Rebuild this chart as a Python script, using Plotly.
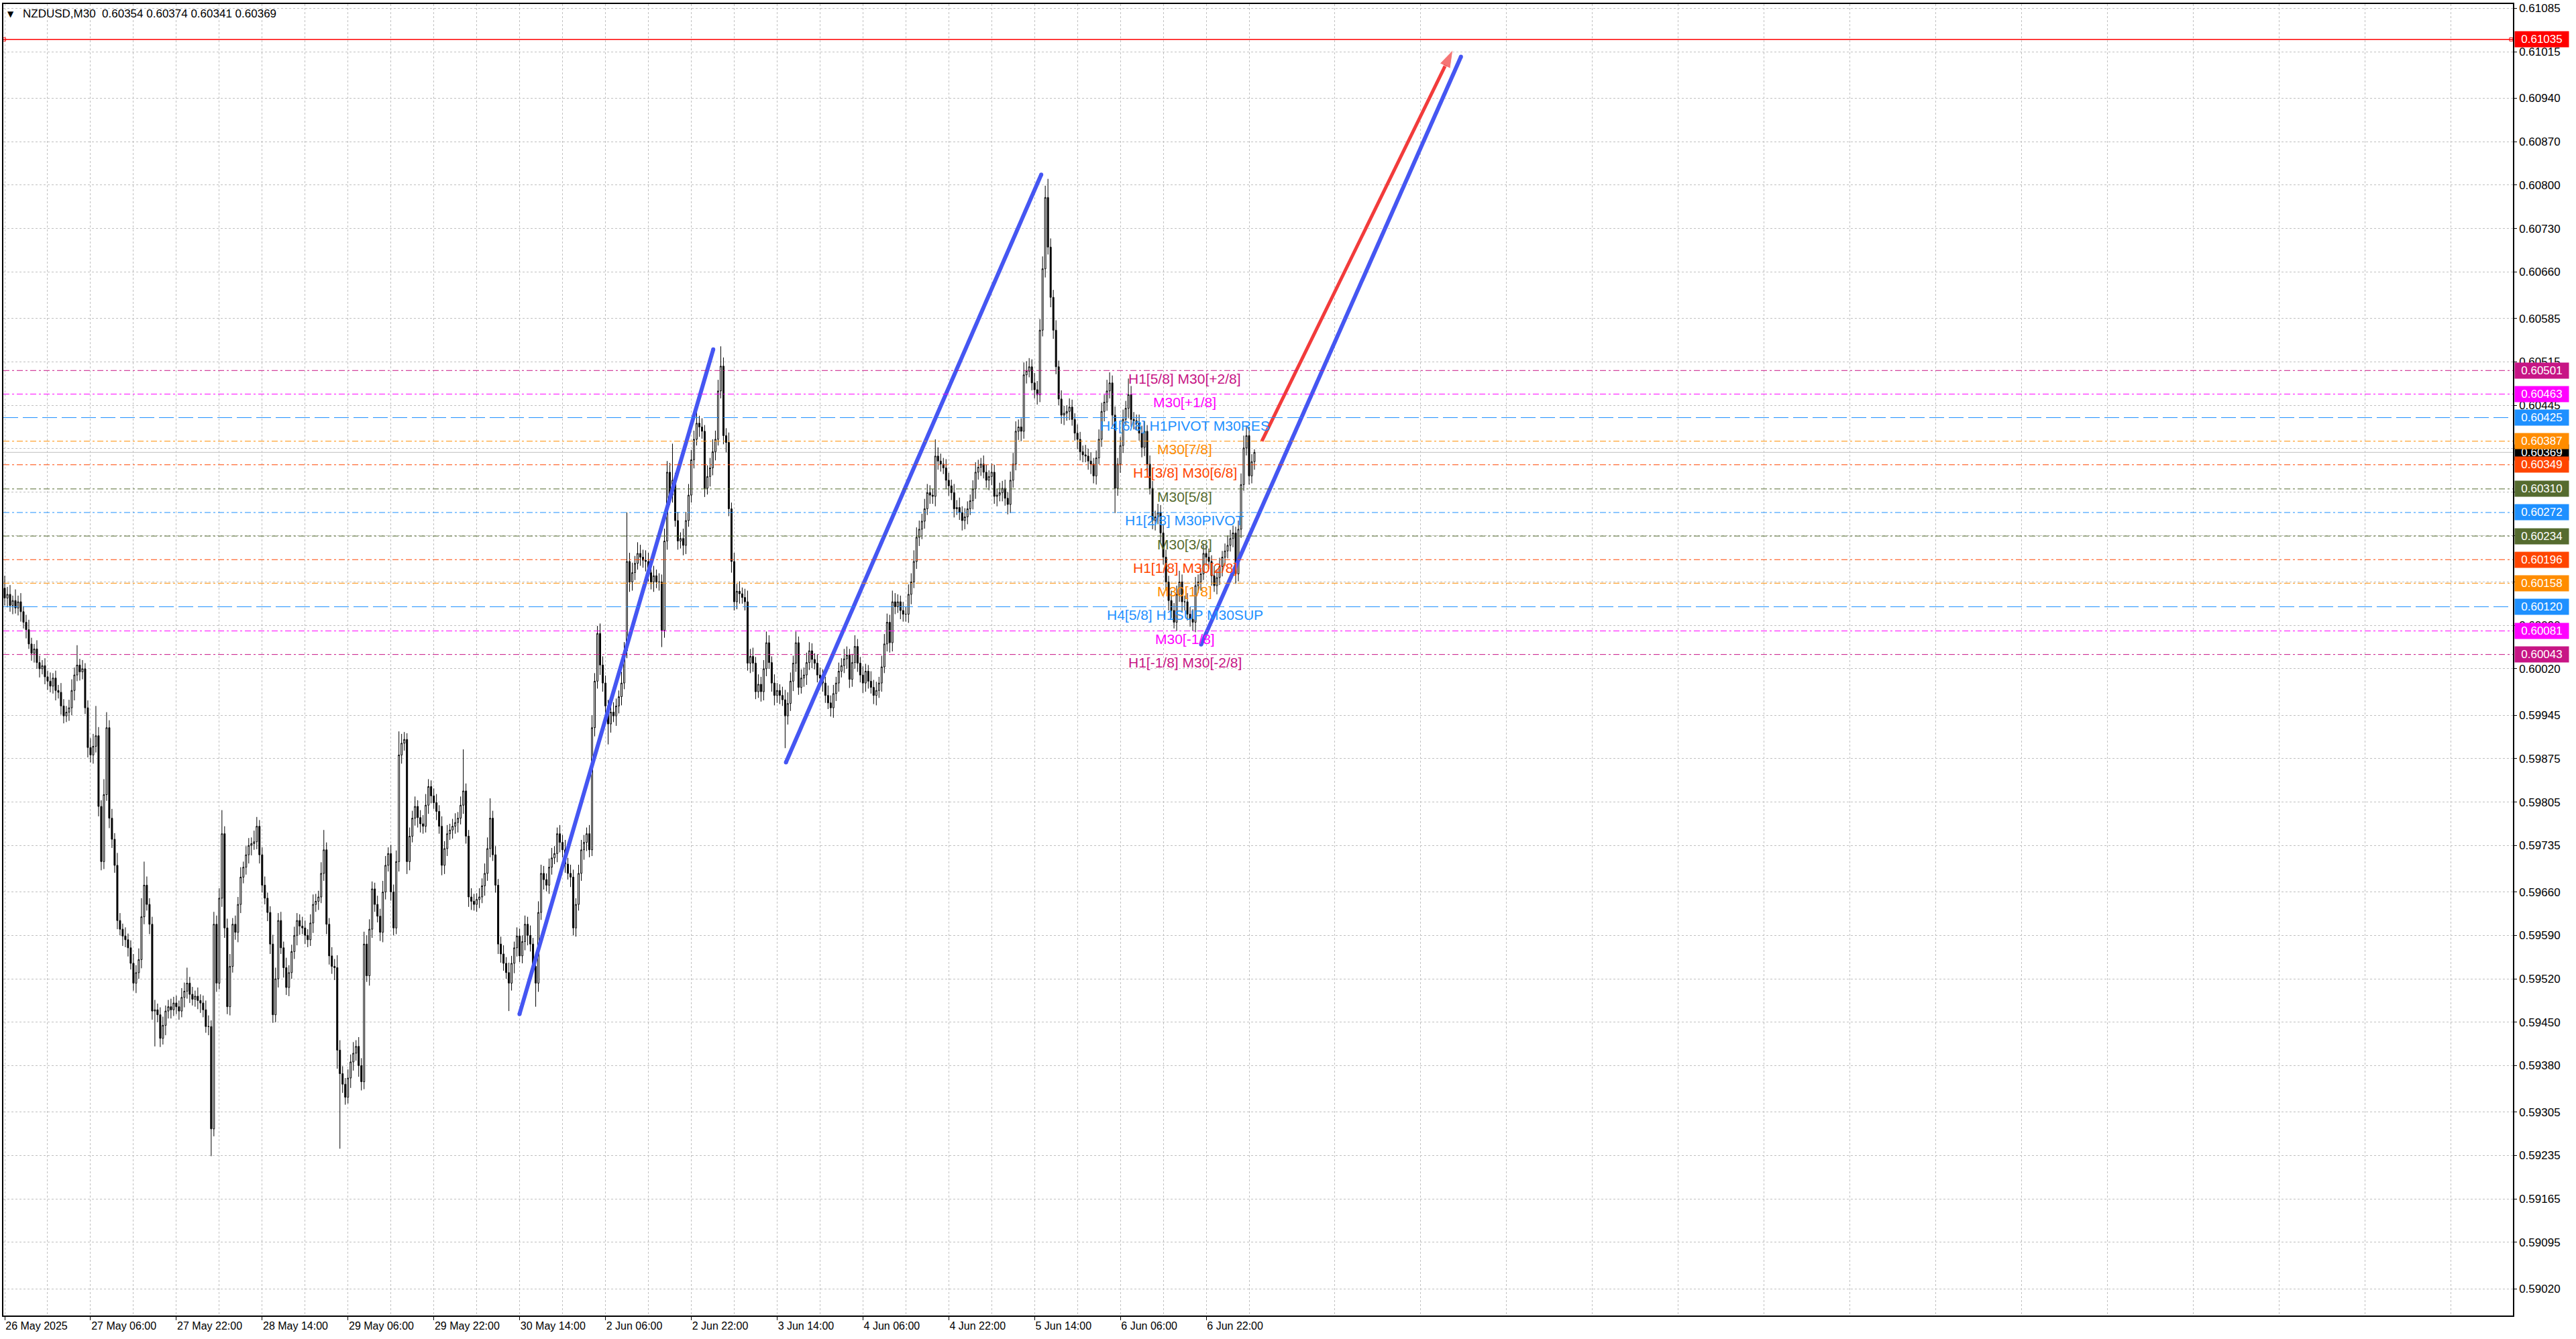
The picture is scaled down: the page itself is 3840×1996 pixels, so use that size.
import plotly.graph_objects as go

# NZDUSD M30 candles. Prices are kept as points above 0.59000 (1 point = 0.00001).
# open of a bar = close of the previous bar
first_open = 1150
close_pts = [
    1134, 1140, 1122, 1130, 1118, 1128, 1112, 1095, 1083, 1060, 1045, 1052, 1030, 1020, 1025, 1007,
    1000, 992, 1005, 985, 982, 960, 944, 950, 957, 985, 1010, 1026, 1015, 1020, 957, 893,
    881, 895, 912, 798, 709, 817, 925, 779, 745, 703, 614, 600, 589, 583, 570, 545,
    513, 530, 551, 620, 671, 640, 608, 468, 470, 462, 424, 445, 468, 475, 470, 481,
    475, 468, 490, 500, 513, 495, 487, 492, 485, 481, 470, 443, 443, 278, 608, 513,
    650, 754, 602, 475, 540, 608, 595, 640, 684, 700, 720, 735, 738, 741, 766, 720,
    671, 650, 627, 576, 462, 520, 614, 570, 538, 506, 530, 564, 590, 614, 605, 602,
    590, 583, 610, 640, 645, 652, 690, 728, 608, 557, 540, 538, 405, 367, 350, 329,
    360, 386, 400, 411, 380, 354, 576, 525, 600, 665, 640, 621, 595, 660, 703, 722,
    660, 602, 709, 881, 900, 906, 709, 750, 779, 798, 780, 770, 766, 800, 830, 815,
    804, 790, 766, 703, 730, 754, 760, 766, 772, 779, 800, 823, 750, 652, 645, 640,
    648, 652, 670, 690, 730, 779, 720, 671, 576, 560, 545, 530, 513, 545, 570, 589,
    557, 580, 608, 590, 576, 540, 513, 627, 690, 680, 671, 700, 715, 722, 754, 740,
    728, 705, 690, 684, 602, 640, 690, 728, 740, 754, 728, 925, 1000, 1077, 1026, 997,
    960, 931, 950, 944, 960, 975, 997, 1049, 1193, 1160, 1175, 1190, 1206, 1200, 1195, 1193,
    1175, 1160, 1170, 1160, 1160, 1082, 1226, 1337, 1300, 1324, 1259, 1226, 1230, 1219, 1259, 1300,
    1357, 1390, 1416, 1410, 1403, 1311, 1330, 1344, 1370, 1390, 1468, 1508, 1396, 1385, 1278, 1193,
    1128, 1145, 1141, 1135, 1128, 1029, 1040, 1029, 983, 995, 983, 1020, 1062, 1030, 997, 977,
    985, 977, 970, 944, 964, 1000, 1029, 1062, 990, 1005, 1010, 1030, 1049, 1035, 1029, 1010,
    1005, 997, 977, 965, 957, 980, 997, 1016, 1025, 1036, 1042, 1003, 1030, 1056, 1029, 1010,
    997, 1016, 1000, 990, 977, 985, 997, 1023, 1060, 1095, 1062, 1128, 1120, 1128, 1114, 1108,
    1108, 1140, 1160, 1193, 1232, 1245, 1258, 1278, 1304, 1300, 1298, 1363, 1355, 1350, 1344, 1324,
    1315, 1304, 1278, 1280, 1272, 1259, 1265, 1278, 1291, 1310, 1337, 1345, 1350, 1337, 1324, 1330,
    1337, 1298, 1300, 1304, 1311, 1295, 1285, 1324, 1350, 1403, 1410, 1403, 1494, 1500, 1507, 1481,
    1470, 1462, 1566, 1665, 1780, 1700, 1619, 1566, 1507, 1455, 1429, 1432, 1435, 1442, 1422, 1400,
    1390, 1370, 1365, 1363, 1355, 1350, 1331, 1360, 1390, 1435, 1450, 1468, 1481, 1429, 1311, 1350,
    1380, 1422, 1440, 1462, 1422, 1420, 1416, 1400, 1377, 1403, 1350, 1311, 1259, 1265, 1272, 1239,
    1200, 1160, 1130, 1114, 1095, 1140, 1160, 1128, 1128, 1108, 1100, 1095, 1154, 1160, 1173, 1206,
    1200, 1193, 1170, 1154, 1167, 1185, 1200, 1210, 1219, 1230, 1239, 1173, 1245, 1317, 1376, 1396,
    1331, 1354, 1369,
]
wick_up = [
    20, 12, 15, 8, 18, 10, 14, 9, 12, 16, 10, 8, 14, 11, 9, 12,
    10, 14, 8, 12, 9, 15, 11, 10, 13, 18, 12, 32, 10, 14, 9, 12,
    15, 20, 48, 14, 10, 25, 25, 12, 15, 10, 20, 12, 9, 14, 10, 12,
    15, 12, 18, 30, 38, 14, 10, 12, 16, 10, 12, 14, 9, 11, 13, 10,
    12, 10, 15, 14, 25, 10, 12, 9, 14, 10, 12, 15, 18, 10, 20, 14,
    16, 38, 12, 15, 20, 10, 14, 12, 16, 9, 14, 12, 10, 18, 15, 10,
    12, 14, 9, 10, 15, 18, 12, 14, 10, 16, 12, 11, 14, 12, 10, 15,
    12, 10, 14, 16, 12, 10, 18, 32, 12, 10, 14, 12, 20, 16, 12, 10,
    14, 12, 18, 10, 15, 12, 20, 14, 16, 12, 10, 14, 12, 18, 15, 10,
    14, 12, 18, 38, 15, 12, 10, 14, 12, 16, 10, 12, 14, 18, 12, 10,
    12, 14, 10, 16, 12, 14, 10, 12, 15, 10, 14, 67, 12, 10, 14, 12,
    10, 14, 12, 16, 18, 32, 12, 14, 10, 12, 14, 10, 16, 12, 10, 14,
    12, 10, 14, 12, 16, 10, 12, 18, 14, 12, 10, 14, 16, 12, 10, 14,
    12, 16, 10, 14, 12, 10, 14, 16, 12, 10, 14, 20, 13, 12, 16, 14,
    12, 10, 14, 16, 12, 10, 18, 14, 79, 14, 16, 12, 18, 14, 12, 16,
    14, 12, 16, 10, 14, 12, 20, 18, 15, 59, 12, 14, 10, 16, 14, 18,
    16, 14, 20, 12, 14, 10, 18, 16, 20, 14, 18, 32, 14, 12, 16, 10,
    14, 12, 16, 10, 14, 18, 12, 14, 10, 16, 12, 14, 18, 12, 10, 14,
    12, 10, 14, 16, 18, 14, 12, 18, 10, 14, 12, 16, 14, 12, 10, 14,
    12, 14, 10, 16, 12, 14, 10, 14, 12, 16, 14, 10, 14, 18, 12, 10,
    14, 12, 10, 16, 12, 14, 10, 18, 16, 14, 12, 18, 14, 12, 10, 14,
    12, 16, 14, 18, 16, 14, 12, 16, 14, 12, 10, 27, 14, 12, 10, 14,
    12, 10, 14, 12, 16, 10, 14, 12, 10, 14, 16, 12, 10, 14, 12, 10,
    14, 12, 10, 16, 12, 14, 10, 14, 18, 16, 12, 14, 20, 16, 14, 12,
    16, 14, 18, 20, 19, 30, 14, 12, 16, 10, 14, 12, 10, 14, 12, 10,
    14, 12, 10, 16, 12, 14, 10, 12, 16, 14, 12, 18, 17, 12, 14, 10,
    14, 16, 12, 26, 14, 12, 10, 14, 12, 16, 10, 14, 12, 10, 14, 12,
    14, 12, 10, 16, 12, 14, 18, 12, 10, 14, 12, 16, 14, 12, 10, 16,
    12, 14, 10, 16, 12, 14, 10, 12, 16, 14, 12, 10, 14, 18, 20, 16,
    14, 12, 5,
]
wick_dn = [
    12, 15, 10, 14, 9, 12, 16, 10, 14, 8, 12, 15, 10, 14, 9, 12,
    14, 10, 12, 16, 10, 14, 12, 10, 14, 12, 16, 10, 14, 12, 10, 16,
    12, 14, 10, 16, 14, 12, 10, 16, 14, 12, 14, 10, 16, 12, 14, 10,
    12, 16, 10, 14, 12, 10, 16, 14, 57, 12, 14, 10, 16, 12, 14, 10,
    12, 14, 10, 16, 12, 14, 10, 12, 14, 16, 12, 10, 14, 44, 12, 14,
    10, 14, 16, 12, 14, 10, 12, 16, 14, 10, 12, 14, 16, 10, 12, 14,
    12, 10, 14, 16, 13, 12, 14, 10, 16, 12, 14, 10, 12, 16, 14, 10,
    14, 12, 10, 16, 12, 14, 10, 12, 16, 14, 12, 20, 30, 121, 14, 12,
    10, 16, 14, 12, 18, 14, 12, 10, 16, 14, 12, 10, 14, 16, 12, 10,
    14, 12, 10, 16, 14, 12, 20, 14, 10, 12, 16, 14, 12, 10, 14, 12,
    10, 14, 12, 16, 14, 12, 10, 14, 12, 16, 10, 14, 12, 16, 14, 10,
    12, 14, 10, 16, 12, 14, 10, 12, 16, 14, 12, 10, 45, 12, 16, 14,
    10, 12, 14, 16, 12, 10, 38, 14, 12, 16, 10, 14, 12, 10, 14, 16,
    12, 14, 10, 16, 12, 14, 10, 12, 16, 14, 12, 10, 14, 12, 16, 14,
    12, 33, 14, 10, 16, 12, 14, 10, 12, 16, 14, 12, 10, 14, 12, 16,
    14, 12, 16, 10, 14, 27, 12, 14, 16, 12, 10, 14, 12, 16, 14, 10,
    12, 14, 10, 16, 12, 14, 10, 16, 12, 14, 10, 12, 14, 16, 12, 18,
    14, 12, 16, 10, 14, 12, 16, 14, 12, 10, 16, 14, 12, 10, 14, 16,
    12, 14, 10, 52, 14, 12, 16, 14, 12, 10, 14, 16, 12, 14, 10, 12,
    16, 14, 12, 10, 14, 16, 12, 14, 10, 12, 16, 14, 12, 10, 14, 12,
    16, 14, 12, 10, 14, 16, 12, 14, 10, 12, 16, 14, 12, 10, 14, 12,
    12, 14, 16, 10, 12, 14, 16, 12, 10, 14, 12, 16, 14, 12, 10, 14,
    16, 12, 14, 10, 12, 16, 14, 12, 10, 14, 16, 12, 14, 10, 12, 16,
    14, 12, 16, 10, 14, 12, 16, 14, 12, 10, 14, 16, 12, 14, 10, 12,
    14, 16, 12, 10, 14, 12, 16, 14, 12, 10, 14, 16, 12, 14, 10, 12,
    16, 14, 12, 10, 14, 16, 12, 14, 10, 12, 16, 14, 12, 18, 40, 12,
    14, 12, 10, 16, 12, 14, 10, 12, 16, 14, 12, 10, 14, 16, 12, 14,
    12, 14, 16, 12, 10, 14, 12, 16, 14, 10, 12, 14, 16, 12, 14, 10,
    14, 12, 16, 10, 14, 12, 16, 14, 12, 10, 14, 16, 12, 14, 10, 12,
    14, 12, 13,
]

# time axis labels, one every 32 bars (16 hours)
time_labels = ['26 May 2025', '27 May 06:00', '27 May 22:00', '28 May 14:00', '29 May 06:00',
               '29 May 22:00', '30 May 14:00', '2 Jun 06:00', '2 Jun 22:00', '3 Jun 14:00',
               '4 Jun 06:00', '4 Jun 22:00', '5 Jun 14:00', '6 Jun 06:00', '6 Jun 22:00']
label_step = 32

price_ticks = [0.61085, 0.61015, 0.60940, 0.60870, 0.60800, 0.60730, 0.60660, 0.60585,
               0.60515, 0.60445, 0.60375, 0.60305, 0.60235, 0.60160, 0.60090, 0.60020,
               0.59945, 0.59875, 0.59805, 0.59735, 0.59660, 0.59590, 0.59520, 0.59450,
               0.59380, 0.59305, 0.59235, 0.59165, 0.59095, 0.59020]

# Murrey levels
level_prices = [0.60501, 0.60463, 0.60425, 0.60387, 0.60349, 0.60310, 0.60272,
                0.60234, 0.60196, 0.60158, 0.60120, 0.60081, 0.60043]
level_names = ['H1[5/8] M30[+2/8]', 'M30[+1/8]', 'H4[6/8] H1PIVOT M30RES', 'M30[7/8]',
               'H1[3/8] M30[6/8]', 'M30[5/8]', 'H1[2/8] M30PIVOT', 'M30[3/8]',
               'H1[1/8] M30[2/8]', 'M30[1/8]', 'H4[5/8] H1SUP M30SUP', 'M30[-1/8]',
               'H1[-1/8] M30[-2/8]']
level_colors = ['#C71585', '#FF00FF', '#1E90FF', '#FF8C00', '#FF4500', '#556B2F', '#1E90FF',
                '#556B2F', '#FF4500', '#FF8C00', '#1E90FF', '#FF00FF', '#C71585']
level_long = [False, False, True, False, False, False, False,
              False, False, False, True, False, False]

# hand drawn trend lines (bar index, price)
trend_x0 = [191.95, 291.3, 446.1]
trend_y0 = [0.59463, 0.59869, 0.60059]
trend_x1 = [264.2, 386.5, 543.0]
trend_y1 = [0.60535, 0.60817, 0.61007]

arrow_x = [468.75, 540.0]
arrow_y = [0.60387, 0.61018]

target_price = 0.61035
last_price = 0.60369
header = 'NZDUSD,M30  0.60354 0.60374 0.60341 0.60369'

# ---------------------------------------------------------------
bars = list(range(len(close_pts)))
o_ls, h_ls, l_ls, c_ls = [], [], [], []
prev = first_open
for c, wu, wd in zip(close_pts, wick_up, wick_dn):
    o = prev
    o_ls.append(round(0.59 + o / 1e5, 5))
    c_ls.append(round(0.59 + c / 1e5, 5))
    h_ls.append(round(0.59 + (max(o, c) + wu) / 1e5, 5))
    l_ls.append(round(0.59 + (min(o, c) - wd) / 1e5, 5))
    prev = c

FONT = 'Liberation Sans'
GRID = '#C0C0C0'
BLUE = '#4556F2'
RED = '#F23B3B'

fig = go.Figure()

fig.add_trace(go.Candlestick(
    x=bars, open=o_ls, high=h_ls, low=l_ls, close=c_ls,
    increasing=dict(line=dict(color='black', width=1), fillcolor='white'),
    decreasing=dict(line=dict(color='black', width=1), fillcolor='black'),
    whiskerwidth=0, showlegend=False, hoverinfo='skip'))

# level lines
shapes = []
shapes.append(dict(type='line', xref='paper', x0=0, x1=1, yref='y', y0=last_price, y1=last_price,
                   line=dict(color='#BEBEBE', width=1), layer='below'))
for p, col, lng in zip(level_prices, level_colors, level_long):
    shapes.append(dict(type='line', xref='paper', x0=0, x1=1, yref='y', y0=p, y1=p,
                       line=dict(color=col, width=1,
                                 dash='22px,7px' if lng else '9px,4px,3px,4px'),
                       layer='above'))
shapes.append(dict(type='line', xref='paper', x0=0, x1=1, yref='y', y0=target_price, y1=target_price,
                   line=dict(color='#FF0000', width=1.5), layer='above'))
# grey strip at bottom of window
shapes.append(dict(type='rect', xref='paper', x0=-0.01, x1=1.03, yref='paper', y0=-0.0185, y1=-0.03,
                   line=dict(width=0), fillcolor='#F0F0F0', layer='below'))

fig.add_trace(go.Scatter(x=[bars[0] - 0.3, 934.6], y=[target_price, target_price], mode='markers',
                         marker=dict(symbol='square-open', size=5, color='#FF0000', line=dict(width=1)),
                         showlegend=False, hoverinfo='skip'))

for x0, y0, x1, y1 in zip(trend_x0, trend_y0, trend_x1, trend_y1):
    fig.add_trace(go.Scatter(x=[x0, x1], y=[y0, y1], mode='lines+markers',
                             line=dict(color=BLUE, width=6),
                             marker=dict(size=6, color=BLUE),
                             showlegend=False, hoverinfo='skip'))

fig.add_trace(go.Scatter(x=arrow_x, y=arrow_y, mode='lines+markers',
                         line=dict(color=RED, width=5),
                         marker=dict(symbol='arrow', size=[5, 28], angleref='previous', color=RED),
                         showlegend=False, hoverinfo='skip'))

annotations = []
for p, name, col in zip(level_prices, level_names, level_colors):
    annotations.append(dict(x=440, y=p, xref='x', yref='y', text=name, showarrow=False,
                            xanchor='center', yanchor='middle', yshift=-12,
                            font=dict(family=FONT, size=21, color=col)))

# price boxes on the right scale
box_prices = [last_price, target_price] + level_prices
box_colors = ['#000000', '#FF0000'] + level_colors
for p, col in zip(box_prices, box_colors):
    annotations.append(dict(x=1, y=p, xref='paper', yref='y', text='%.5f' % p, showarrow=False,
                            xanchor='left', yanchor='middle', xshift=2,
                            width=76, height=19, borderpad=2, bgcolor=col, align='center',
                            font=dict(family=FONT, size=17, color='white')))

annotations.append(dict(x=0, y=1, xref='paper', yref='paper', text='\u25bc', showarrow=False,
                        xanchor='left', yanchor='top', xshift=4, yshift=-6,
                        font=dict(family='DejaVu Sans', size=12, color='black')))
annotations.append(dict(x=0, y=1, xref='paper', yref='paper', text=header, showarrow=False,
                        xanchor='left', yanchor='top', xshift=27, yshift=-3,
                        font=dict(family=FONT, size=17, color='black')))

fig.update_layout(
    width=3840, height=1996, autosize=False,
    margin=dict(l=3, r=94, t=4, b=35),
    paper_bgcolor='white', plot_bgcolor='white',
    shapes=shapes, annotations=annotations,
    showlegend=False, hovermode=False,
    xaxis=dict(
        range=[-0.5, 935.25], rangeslider=dict(visible=False),
        tickmode='array',
        tickvals=[label_step * k for k in range(len(time_labels))],
        ticktext=time_labels,
        ticks='outside', ticklen=5, tickcolor='black',
        ticklabelposition='outside right',
        tickfont=dict(family=FONT, size=16, color='black'),
        showline=True, linecolor='black', linewidth=1.5, mirror=True,
        showgrid=True, gridcolor=GRID, gridwidth=1, griddash='3px,3px',
        minor=dict(tick0=label_step // 2, dtick=label_step, showgrid=True,
                   gridcolor=GRID, gridwidth=1, griddash='3px,3px', ticks=''),
        zeroline=False,
    ),
    yaxis=dict(
        side='right', range=[0.58977, 0.61092],
        tickmode='array', tickvals=price_ticks,
        ticktext=['%.5f' % v for v in price_ticks],
        ticks='outside', ticklen=4, tickcolor='black',
        tickfont=dict(family=FONT, size=17, color='black'),
        showline=True, linecolor='black', linewidth=1.5, mirror=True,
        showgrid=True, gridcolor=GRID, gridwidth=1, griddash='3px,3px',
        zeroline=False,
    ),
)

fig.write_html("out.html", config={'displayModeBar': False},
               post_script="document.body.style.margin='0';")
